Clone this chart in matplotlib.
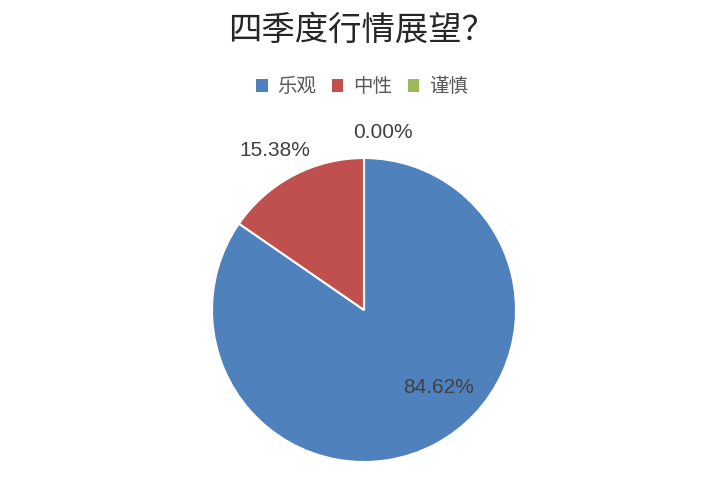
import matplotlib
matplotlib.use("Agg")
import matplotlib.pyplot as plt
from matplotlib.patches import Patch

plt.rcParams['font.family'] = ['Noto Sans CJK SC', 'DejaVu Sans']

title = "四季度行情展望？"
categories = ["乐观", "中性", "谨慎"]
values = [84.62, 15.38, 0.00]
colors = ["#4F81BD", "#C0504D", "#9BBB59"]

fig = plt.figure(figsize=(7.24, 4.84), dpi=100)
W, H = 724, 484
cx, cy, r = 364, 310, 152
ax = fig.add_axes([(cx - r) / W, (H - cy - r) / H, 2 * r / W, 2 * r / H])
wedges, _ = ax.pie(values, colors=colors, startangle=90, counterclock=False,
                   wedgeprops=dict(edgecolor="white", linewidth=1.5), radius=1.0)
ax.set_xlim(-1, 1)
ax.set_ylim(-1, 1)
ax.set_aspect("equal")
ax.axis("off")

label_pos = [(0.49, -0.51), (-0.585, 1.05), (0.125, 1.17)]
for v, (x, y) in zip(values, label_pos):
    ax.text(x, y, f"{v:.2f}%", ha="center", va="center", fontsize=15,
            color="#404040", family=["Liberation Sans", "DejaVu Sans"], clip_on=False)

fig.text(0.5, 1 - 30 / H, title, ha="center", va="center", fontsize=24,
         color="#262626")

handles = [Patch(facecolor=c, edgecolor="none") for c in colors]
fig.legend(handles, categories, loc="center", bbox_to_anchor=(0.5, 1 - 87 / H),
           ncol=3, frameon=False, fontsize=14, handlelength=0.6, handleheight=0.6,
           handletextpad=0.5, columnspacing=0.8, labelcolor="#595959")

fig.savefig("out.png", dpi=100)
